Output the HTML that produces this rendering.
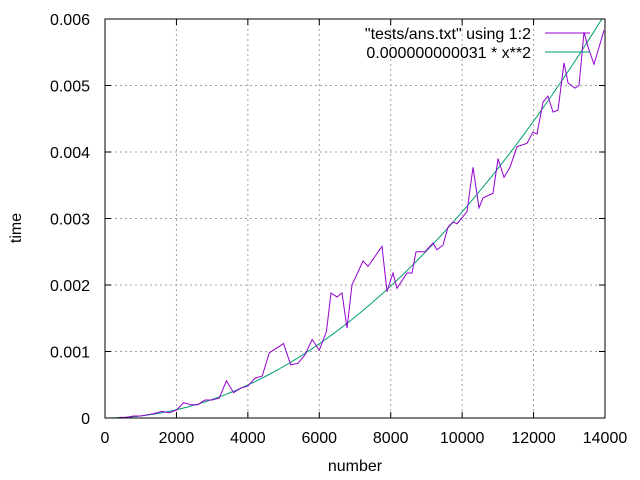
<!DOCTYPE html>
<html><head><meta charset="utf-8"><style>
body{margin:0;background:#fff}
svg{display:block}
text{font-family:"Liberation Sans",Arial,sans-serif;font-size:16px;fill:#000}
</style></head><body>
<svg id="chart" width="640" height="480" xmlns="http://www.w3.org/2000/svg">
<defs><clipPath id="clip"><rect x="105" y="19" width="500" height="399"/></clipPath></defs>
<g id="grid"></g>
<g id="ticks"></g>
<g id="series" clip-path="url(#clip)"></g>
<rect x="105" y="19" width="500" height="399" fill="none" stroke="#000" stroke-width="1"/>
<text transform="translate(21,228) rotate(-90)" text-anchor="middle">time</text>
<text x="355" y="471" text-anchor="middle">number</text>
<g>
<g><text x="531" y="39" text-anchor="end">"tests/ans.txt" using 1:2</text><line x1="545" y1="33" x2="590" y2="33" stroke="#9400d3" stroke-width="1"/></g>
<g><text x="531" y="58" text-anchor="end">0.000000000031 * x**2</text><line x1="545" y1="52" x2="590" y2="52" stroke="#009e73" stroke-width="1"/></g>
</g>
</svg>
<script>
const xTicks=[0,2000,4000,6000,8000,10000,12000,14000];
const yTicks=[0,0.001,0.002,0.003,0.004,0.005,0.006];
const yTickLabels=["0","0.001","0.002","0.003","0.004","0.005","0.006"];
const dataX=[400,600,800,1000,1200,1400,1600,1800,2000,2200,2400,2600,2800,3000,3200,3400,3600,3800,4000,4200,4400,4600,4800,5000,5200,5400,5600,5800,6000,6200,6328,6496,6636,6776,6916,7224,7364,7756,7896,8064,8176,8456,8596,8708,8960,9184,9296,9464,9604,9744,9856,10136,10304,10472,10584,10864,11004,11172,11340,11536,11816,11984,12096,12264,12404,12544,12684,12852,12964,13160,13272,13412,13524,13692,13972];
const dataY=[0.00001,0.00001,0.00003,0.00003,0.00005,0.00007,0.0001,0.00008,0.00012,0.00023,0.0002,0.0002,0.00027,0.00027,0.0003,0.00056,0.00038,0.00045,0.00048,0.0006,0.00063,0.00098,0.00105,0.00112,0.0008,0.00082,0.00095,0.00118,0.00102,0.0013,0.00188,0.00182,0.00188,0.00135,0.002,0.00236,0.00228,0.00258,0.0019,0.00218,0.00195,0.00218,0.00218,0.0025,0.0025,0.00263,0.00253,0.0026,0.00287,0.00295,0.00292,0.0031,0.00377,0.00316,0.00331,0.00338,0.0039,0.00362,0.00377,0.00408,0.00413,0.0043,0.00427,0.00475,0.00484,0.0046,0.00463,0.00534,0.00504,0.00496,0.005,0.0058,0.00558,0.00532,0.00583];
const fitCoef=3.1e-11;
const NS="http://www.w3.org/2000/svg";
const X=v=>105+v/14000*500, Y=v=>418-v/0.006*399;
function mk(tag,attrs,parent){const e=document.createElementNS(NS,tag);for(const k in attrs)e.setAttribute(k,attrs[k]);parent.appendChild(e);return e;}
const grid=document.getElementById('grid'),ticks=document.getElementById('ticks'),series=document.getElementById('series');
xTicks.forEach((t,i)=>{const x=X(t);
 if(i>0&&i<xTicks.length-1){const g=mk('line',{x1:x,y1:19,x2:x,y2:418,stroke:'#a0a0a0','stroke-dasharray':'2,3'},grid);}
 const a=mk('path',{d:`M${x},418v-6M${x},19v6`,stroke:'#000'},ticks);
 const l=mk('text',{x:x,y:443,'text-anchor':'middle'},ticks);l.textContent=String(t);});
yTicks.forEach((t,i)=>{const y=Y(t);
 if(i>0&&i<yTicks.length-1){const g=mk('line',{x1:105,y1:y,x2:605,y2:y,stroke:'#a0a0a0','stroke-dasharray':'2,3'},grid);}
 const a=mk('path',{d:`M105,${y}h6M605,${y}h-6`,stroke:'#000'},ticks);
 const l=mk('text',{x:90,y:y+6,'text-anchor':'end'},ticks);l.textContent=yTickLabels[i];});
let fd='';for(let x=0;x<=14000;x+=100){fd+=(x?'L':'M')+X(x).toFixed(2)+','+Y(fitCoef*x*x).toFixed(2);}
const fit=mk('path',{d:fd,fill:'none',stroke:'#009e73','stroke-width':1},series);

const dd=dataX.map((x,i)=>(i?'L':'M')+X(x).toFixed(2)+','+Y(dataY[i]).toFixed(2)).join('');
const dl=mk('path',{d:dd,fill:'none',stroke:'#9400d3','stroke-width':1},series);

</script>
</body></html>
